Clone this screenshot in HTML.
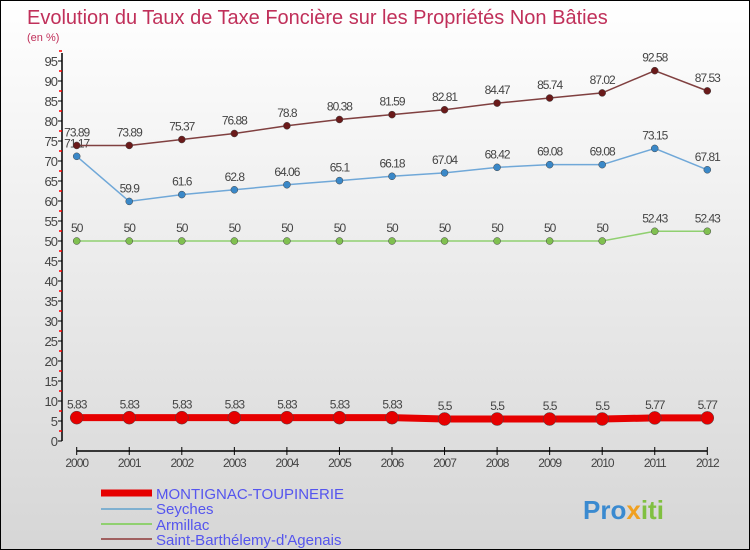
<!DOCTYPE html>
<html><head><meta charset="utf-8"><style>
body{margin:0;}
#c{width:750px;height:550px;position:relative;overflow:hidden;box-sizing:border-box;border:1px solid #000;background:linear-gradient(#ffffff,#d6d6d6);font-family:"Liberation Sans",sans-serif;}
text{font-family:"Liberation Sans",sans-serif;}
</style></head><body>
<div id="c">
<svg id="s" width="750" height="550">
<text x="26" y="23" font-size="20" fill="#c0305a">Evolution du Taux de Taxe Foncière sur les Propriétés Non Bâties</text>
<text x="26" y="40" font-size="11" fill="#c0305a">(en %)</text>
<g id="axes"></g><g id="series"></g>
<g>
<line x1="100" y1="492" x2="151" y2="492" stroke="#e60000" stroke-width="7"/>
<text x="155" y="498" font-size="15" fill="#5555ee">MONTIGNAC-TOUPINERIE</text>
<line x1="100" y1="508" x2="151" y2="508" stroke="#7fb0d0" stroke-width="2"/>
<text x="155" y="513" font-size="15" fill="#5555ee">Seyches</text>
<line x1="100" y1="523" x2="151" y2="523" stroke="#90d070" stroke-width="2"/>
<text x="155" y="529" font-size="15" fill="#5555ee">Armillac</text>
<line x1="100" y1="538" x2="151" y2="538" stroke="#a06060" stroke-width="2"/>
<text x="155" y="544" font-size="15" fill="#5555ee">Saint-Barthélemy-d'Agenais</text>
</g>
<text x="582" y="518" font-size="26" font-weight="bold" fill="#3a8ad0">Pro<tspan fill="#f0a020">x</tspan><tspan fill="#80c040">iti</tspan></text>
</svg></div>
<script>
const years=[2000,2001,2002,2003,2004,2005,2006,2007,2008,2009,2010,2011,2012];
const montignac=[5.83,5.83,5.83,5.83,5.83,5.83,5.83,5.5,5.5,5.5,5.5,5.77,5.77];
const seyches=[71.17,59.9,61.6,62.8,64.06,65.1,66.18,67.04,68.42,69.08,69.08,73.15,67.81];
const armillac=[50,50,50,50,50,50,50,50,50,50,50,52.43,52.43];
const saintB=[73.89,73.89,75.37,76.88,78.8,80.38,81.59,82.81,84.47,85.74,87.02,92.58,87.53];
const yTicks=[0,5,10,15,20,25,30,35,40,45,50,55,60,65,70,75,80,85,90,95];
const NS="http://www.w3.org/2000/svg";
const xs=i=>75.7+i*52.55;
const ys=v=>440-v*4;
function mk(t,a,p){const e=document.createElementNS(NS,t);for(const k in a)e.setAttribute(k,a[k]);p.appendChild(e);return e;}
const ax=document.getElementById('axes');
const yl=mk('line',{x1:61,y1:ys(97),x2:61,y2:440,stroke:'#000','stroke-width':1.5},ax);


yTicks.forEach(v=>{
 mk('line',{x1:57,y1:ys(v),x2:61,y2:ys(v),stroke:'#000'},ax);
 mk('line',{x1:58,y1:ys(v+2.5),x2:61,y2:ys(v+2.5),stroke:'#f00','stroke-width':1.5},ax);
 const t=mk('text',{x:56,y:ys(v)+5,'font-size':13,fill:'#444','text-anchor':'end','letter-spacing':'-1'},ax);
 t.textContent=v;
 
 
});
const xl=mk('line',{x1:xs(0),y1:450,x2:xs(12),y2:450,stroke:'#000','stroke-width':1.5},ax);


years.forEach((y,i)=>{
 mk('line',{x1:xs(i),y1:446,x2:xs(i),y2:454,stroke:'#000'},ax);
 const t=mk('text',{x:xs(i),y:466,'font-size':12,fill:'#444','text-anchor':'middle','letter-spacing':'-1'},ax);
 t.textContent=y;
 
 
});
const sg=document.getElementById('series');
function draw(vals,name,col,lw,r,dot){
 const g=mk('g',{},sg);
 
 
 mk('polyline',{points:vals.map((v,i)=>xs(i)+','+ys(v)).join(' '),fill:'none',stroke:col,'stroke-width':lw},g);
 vals.forEach((v,i)=>{
  const c=mk('circle',{cx:xs(i),cy:ys(v),r:r,fill:dot,stroke:'#444','stroke-width':0.5},g);
  
  
  const t=mk('text',{x:xs(i),y:ys(v)-9,'font-size':12,fill:'#444','text-anchor':'middle','letter-spacing':'-1'},g);
  t.textContent=v;
  
  
 });
}
draw(armillac,'armillac-series','#90d070',1.5,3.5,'#80c050');
draw(seyches,'seyches-series','#70a8d8',1.5,3.5,'#3a88c8');
draw(saintB,'saint-barthelemy-series','#804040',1.5,3.5,'#6a1a1a');
draw(montignac,'montignac-series','#e60000',7,6.5,'#e60000');
</script>
</body></html>
